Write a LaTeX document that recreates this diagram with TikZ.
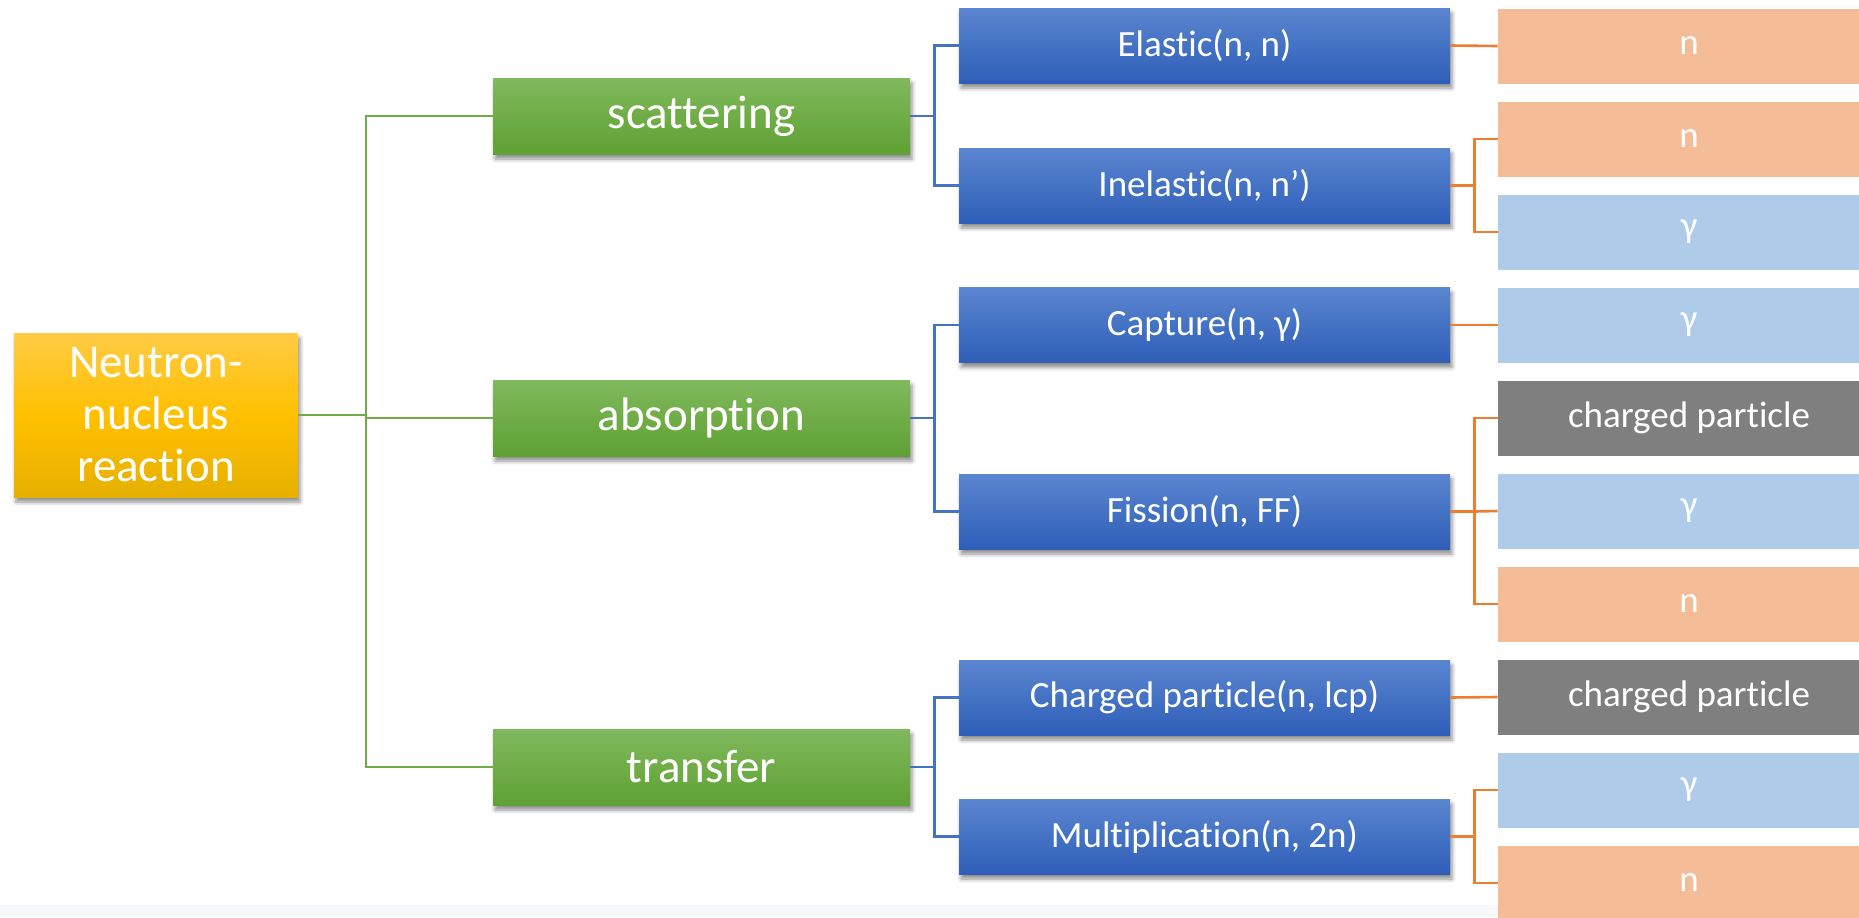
\documentclass[tikz,border=0pt]{standalone}
\usepackage{fontspec}
\setmainfont{Carlito}[Ligatures={NoCommon,NoContextual}]
\usetikzlibrary{shadows.blur}

\definecolor{rootTop}{HTML}{FFCB45}
\definecolor{rootMid}{HTML}{FFC000}
\definecolor{rootBot}{HTML}{E6B000}
\definecolor{grTop}{HTML}{80B95E}
\definecolor{grMid}{HTML}{70AD47}
\definecolor{grBot}{HTML}{5FA134}
\definecolor{blTop}{HTML}{5B85D0}
\definecolor{blMid}{HTML}{4472C4}
\definecolor{blBot}{HTML}{2E5EB8}
\definecolor{peach}{HTML}{F5BD97}
\definecolor{sky}{HTML}{AECCEA}
\definecolor{slate}{HTML}{7F7F7F}
\definecolor{grLine}{HTML}{70AD47}
\definecolor{blLine}{HTML}{4472C4}
\definecolor{orLine}{HTML}{ED7D31}
\definecolor{stripGray}{HTML}{F7F8FA}

\begin{document}
\begin{tikzpicture}[x=0.5pt,y=-0.5pt]

	\tikzset{
	  box/.style={
	    inner sep=0pt,
	    text=white,
	    align=center,
	  },
	  shade/.style={
	    blur shadow={shadow xshift=1pt,shadow yshift=-2.5pt,shadow blur radius=2pt,shadow opacity=45},
	  },
	  rootbox/.style={box,shade,minimum width=142pt,minimum height=82pt,
	    top color=rootTop,bottom color=rootBot,middle color=rootMid,
	    font=\fontsize{23.5pt}{26pt}\selectfont},
	  kindbox/.style={box,shade,minimum width=208.5pt,minimum height=38pt,
	    top color=grTop,bottom color=grBot,middle color=grMid,
	    font=\fontsize{23.5pt}{28pt}\selectfont},
	  reacbox/.style={box,shade,minimum width=245.5pt,minimum height=37.5pt,
	    top color=blTop,bottom color=blBot,middle color=blMid,
	    font=\fontsize{18.5pt}{22pt}\selectfont},
	  outbox/.style={box,minimum width=191pt,minimum height=37.5pt,
	    font=\fontsize{18.5pt}{22pt}\selectfont},
	  grline/.style={color=grLine,line width=1.3pt},
	  blline/.style={color=blLine,line width=1.3pt},
	  orline/.style={color=orLine,line width=1.3pt},
	}
	\useasboundingbox (0,0) rectangle (1859,917);
	\clip (0,0) rectangle (1859,917);

	\fill[stripGray] (0,905) rectangle (1859,917);

	\node[rootbox] (root) at (156,415) {Neutron-\\nucleus\\reaction};

	\node[kindbox] (scat) at (701.5,116) {scattering};
	\node[kindbox] (abso) at (701.5,418) {absorption};
	\node[kindbox] (tran) at (701.5,767) {transfer};

	\node[reacbox] (elas) at (1204.5,45.5) {Elastic(n, n)};
	\node[reacbox] (inel) at (1204.5,185.5) {Inelastic(n, n’)};
	\node[reacbox] (capt) at (1204.5,325) {Capture(n, γ)};
	\node[reacbox] (fiss) at (1204.5,511.5) {Fission(n, FF)};
	\node[reacbox] (char) at (1204.5,697.5) {Charged particle(n, lcp)};
	\node[reacbox] (mult) at (1204.5,836.5) {Multiplication(n, 2n)};

	\foreach \k/\col/\txt in {0/peach/n,1/peach/n,2/sky/γ,3/sky/γ,4/slate/charged particle,
	  5/sky/γ,6/peach/n,7/slate/charged particle,8/sky/γ,9/peach/n}
	  \node[outbox,fill=\col] (p\k) at (1689,46+93*\k) {\txt};

	\draw[grline] (root.east) -- (366,415) coordinate (gt);
	\draw[grline] (scat.west) -| (gt) |- (tran.west);
	\draw[grline] (abso.west) -| (gt);

	\draw[blline] (scat.east) -- ++(24,0) coordinate (b1) (elas.west) -| (b1) |- (inel.west);
	\draw[blline] (abso.east) -- ++(24,0) coordinate (b2) (capt.west) -| (b2) |- (fiss.west);
	\draw[blline] (tran.east) -- ++(24,0) coordinate (b3) (char.west) -| (b3) |- (mult.west);

	\draw[orline] (elas.east) -- (p0.west);
	\draw[orline] (inel.east) -- ++(24,0) coordinate (o1) (p1.west) -| (o1) |- (p2.west);
	\draw[orline] (capt.east) -- (p3.west);
	\draw[orline] (fiss.east) -- ++(24,0) coordinate (o2) (p4.west) -| (o2) |- (p6.west);
	\draw[orline] (o2) -- (p5.west);
	\draw[orline] (char.east) -- (p7.west);
	\draw[orline] (mult.east) -- ++(24,0) coordinate (o3) (p8.west) -| (o3) |- (p9.west);

\end{tikzpicture}
\end{document}
